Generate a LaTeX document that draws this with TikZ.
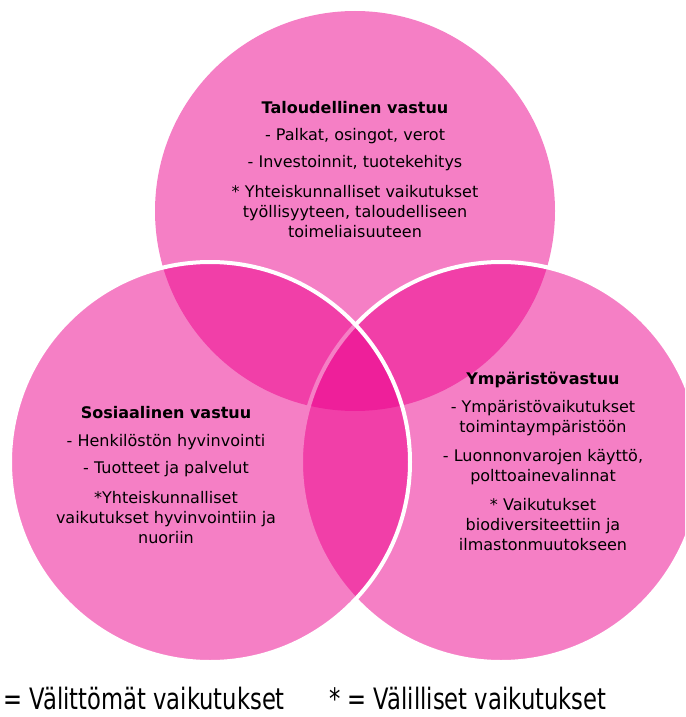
\documentclass[tikz,border=0pt]{standalone}
\usepackage{fontspec}
\setmainfont{DejaVu Sans}
\usepackage{graphicx}
\definecolor{vennpink}{RGB}{236,0,140}

\begin{document}
\begin{tikzpicture}[x=0.75pt,y=-0.75pt,
  venn/.style={fill=vennpink,fill opacity=0.5},
  rim/.style={draw=white,line width=3pt},
  txt/.style={font=\fontsize{12}{15}\selectfont,align=center,inner sep=0pt},
  head/.style={txt,font=\fontsize{12}{15}\selectfont\bfseries},
  legend/.style={font=\fontsize{17}{20}\selectfont,anchor=base west,inner sep=0pt}]
  \useasboundingbox (0,0) rectangle (685,717);
  \clip (0,0) rectangle (685,717);
  % the three circles, left one on top
  \fill[venn] (355,211) circle (200);
  \draw[venn,rim] (501,462) circle (200);
  \draw[venn,rim] (210,462) circle (200);
  % top
  \node[head] (talh) at (355,108) {Taloudellinen vastuu};
  \node[txt] (tal1) at (355,136) {- Palkat, osingot, verot};
  \node[txt] (tal2) at (355,163) {- Investoinnit, tuotekehitys};
  \node[txt] (tal3) at (355,212) {* Yhteiskunnalliset vaikutukset\\työllisyyteen, taloudelliseen\\toimeliaisuuteen};
  % left
  \node[head] (sosh) at (166,413) {Sosiaalinen vastuu};
  \node[txt] (sos1) at (166,442) {- Henkilöstön hyvinvointi};
  \node[txt] (sos2) at (166,469) {- Tuotteet ja palvelut};
  \node[txt] (sos3) at (166,518) {*Yhteiskunnalliset\\vaikutukset hyvinvointiin ja\\nuoriin};
  % right
  \node[head] (ymph) at (543,380) {Ympäristövastuu};
  \node[txt] (ymp1) at (543,418) {- Ympäristövaikutukset\\toimintaympäristöön};
  \node[txt] (ymp2) at (543,467) {- Luonnonvarojen käyttö,\\polttoainevalinnat};
  \node[txt] (ymp3) at (543,525) {* Vaikutukset\\biodiversiteettiin ja\\ilmastonmuutokseen};
  % legend
  \node[legend] (suora) at (3,709) {\scalebox{1}[1.3]{= Välittömät vaikutukset}};
  \node[legend] (epasuora) at (329,709) {\scalebox{1}[1.3]{* = Välilliset vaikutukset}};
\end{tikzpicture}
\end{document}
